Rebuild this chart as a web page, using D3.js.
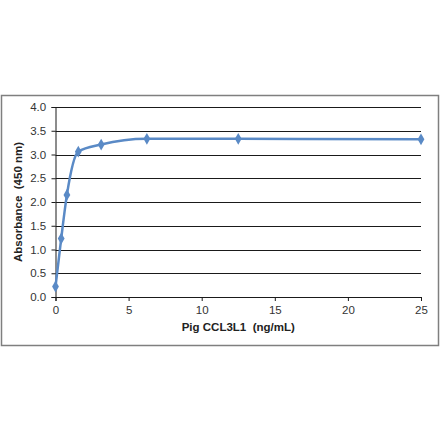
<!DOCTYPE html>
<html>
<head>
<meta charset="utf-8">
<script src="https://cdn.jsdelivr.net/npm/d3@7"></script>
<style>
body{margin:0;background:#fff;}
svg text{font-family:"Liberation Sans",Arial,sans-serif;}
</style>
</head>
<body>
<div id="graph"></div>
<script>
// concentration (ng/mL) and absorbance
var conc = [0, 0.39, 0.78, 1.56, 3.125, 6.25, 12.5, 25];
var absorb = [0.22, 1.23, 2.15, 3.06, 3.21, 3.33, 3.33, 3.32];
var xTicks = [0, 5, 10, 15, 20, 25];
var yTicks = [0, 0.5, 1, 1.5, 2, 2.5, 3, 3.5, 4];

var W = 440, H = 441;
var margin = {top: 107, left: 55.5, right: 19, bottom: 144};
var w = W - margin.left - margin.right;
var h = H - margin.top - margin.bottom;

var svg = d3.select('#graph').append('svg')
    .attr('width', W)
    .attr('height', H);

// outer chart frame
svg.append('rect')
    .attr('x', 1.5).attr('y', 95.5)
    .attr('width', 437).attr('height', 250)
    .attr('fill', '#fff')
    .attr('stroke', '#7f7f7f')
    .attr('stroke-width', 1.5);

var g = svg.append('g')
    .attr('transform', 'translate(' + margin.left + ',' + margin.top + ')');

var xScale = d3.scaleLinear().domain([0, 25]).range([0, w]);
var yScale = d3.scaleLinear().domain([0, 4]).range([h, 0]);

// gridlines
g.append('g').selectAll('line')
    .data(yTicks.slice(1))
    .enter().append('line')
    .attr('x1', 0).attr('x2', w)
    .attr('y1', function(d){ return Math.round(yScale(d)) + 0.5; })
    .attr('y2', function(d){ return Math.round(yScale(d)) + 0.5; })
    .attr('stroke', '#1a1a1a')
    .attr('stroke-width', 1.2);

var xAxis = d3.axisBottom(xScale).tickValues(xTicks).tickSize(4).tickFormat(d3.format('d'));
var yAxis = d3.axisLeft(yScale).tickValues(yTicks).tickSize(4).tickFormat(d3.format('.1f'));

var xa = g.append('g')
    .attr('transform', 'translate(0,' + h + ')')
    .call(xAxis);
var ya = g.append('g').call(yAxis);

[xa, ya].forEach(function(a){
    a.select('.domain').attr('stroke', '#1a1a1a');
    a.selectAll('.tick line').attr('stroke', '#1a1a1a');
    a.selectAll('.tick text')
        .attr('fill', '#333')
        .attr('font-size', '11.5px');
});
xa.selectAll('.tick text').attr('dy', '0.85em');
ya.selectAll('.tick text').attr('dx', '-0.2em');

// axis titles
g.append('text')
    .attr('x', w / 2)
    .attr('y', h + 34)
    .attr('text-anchor', 'middle')
    .attr('font-size', '11.5px')
    .attr('font-weight', 'bold')
    .attr('fill', '#222')
    .attr('xml:space', 'preserve')
    .text('Pig CCL3L1  (ng/mL)');

g.append('text')
    .attr('transform', 'translate(-34,' + (h / 2) + ') rotate(-90)')
    .attr('text-anchor', 'middle')
    .attr('font-size', '11.5px')
    .attr('font-weight', 'bold')
    .attr('fill', '#222')
    .attr('xml:space', 'preserve')
    .text('Absorbance  (450 nm)');

var data = conc.map(function(c, i){ return {x: c, y: absorb[i]}; });

var line = d3.line()
    .x(function(d){ return xScale(d.x); })
    .y(function(d){ return yScale(d.y); })
    .curve(d3.curveMonotoneX);

g.append('path')
    .attr('d', line(data))
    .attr('fill', 'none')
    .attr('stroke', '#5a8ac6')
    .attr('stroke-width', 2.5);

g.selectAll('.pt')
    .data(data)
    .enter().append('path')
    .attr('class', 'pt')
    .attr('d', d3.symbol().type(d3.symbolDiamond).size(40))
    .attr('transform', function(d){ return 'translate(' + xScale(d.x) + ',' + yScale(d.y) + ')'; })
    .attr('fill', '#5a8ac6');
</script>
</body>
</html>
